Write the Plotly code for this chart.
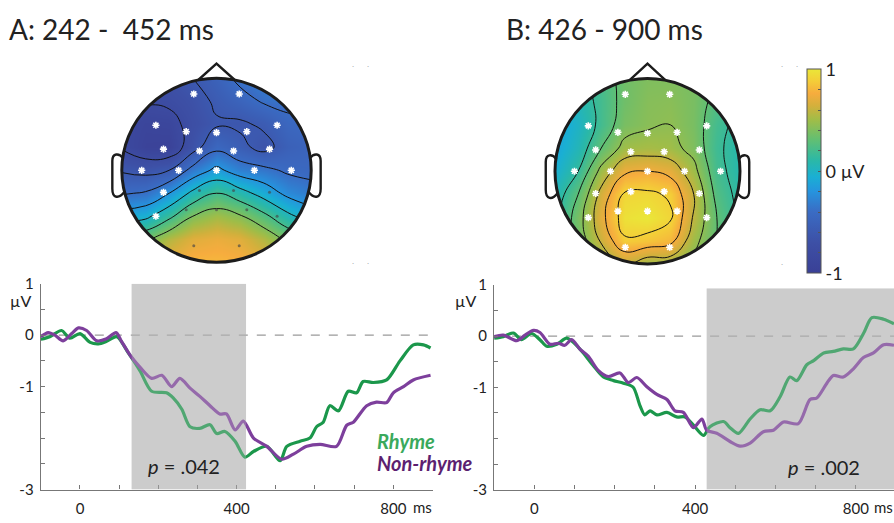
import numpy as np
import plotly.graph_objects as go

W, H = 894, 523
FONT = "Lato"

# ---------------- topography data (values in µV, read on a 9x9 grid, rows top->bottom) ----
grid_u = [-1.0, -0.75, -0.5, -0.25, 0.0, 0.25, 0.5, 0.75, 1.0]
grid_v = [1.0, 0.75, 0.5, 0.25, 0.0, -0.25, -0.5, -0.75, -1.0]

topo_a = [
    [-0.70, -0.70, -0.68, -0.60, -0.50, -0.35, -0.30, -0.30, -0.30],
    [-0.75, -0.78, -0.76, -0.68, -0.57, -0.48, -0.38, -0.35, -0.35],
    [-0.85, -0.90, -0.88, -0.72, -0.62, -0.63, -0.57, -0.45, -0.42],
    [-0.82, -0.94, -0.95, -0.68, -0.45, -0.55, -0.66, -0.52, -0.48],
    [-0.62, -0.66, -0.60, -0.33, -0.15, -0.30, -0.35, -0.43, -0.45],
    [-0.42, -0.38, -0.20, 0.05, 0.20, 0.08, -0.08, -0.25, -0.33],
    [-0.10, -0.05, 0.15, 0.40, 0.50, 0.42, 0.25, 0.05, -0.10],
    [0.30, 0.35, 0.55, 0.68, 0.72, 0.68, 0.55, 0.35, 0.25],
    [0.55, 0.60, 0.72, 0.80, 0.80, 0.78, 0.70, 0.55, 0.50],
]
topo_b = [
    [0.00, 0.10, 0.22, 0.35, 0.40, 0.40, 0.38, 0.30, 0.20],
    [-0.10, 0.05, 0.20, 0.35, 0.42, 0.43, 0.38, 0.25, 0.12],
    [-0.15, 0.00, 0.20, 0.38, 0.43, 0.45, 0.38, 0.20, 0.10],
    [-0.12, 0.05, 0.30, 0.50, 0.52, 0.50, 0.40, 0.18, 0.08],
    [-0.05, 0.15, 0.50, 0.72, 0.75, 0.70, 0.50, 0.20, 0.08],
    [0.05, 0.30, 0.65, 0.92, 0.93, 0.88, 0.60, 0.25, 0.10],
    [0.10, 0.38, 0.70, 0.97, 1.00, 0.92, 0.58, 0.30, 0.12],
    [0.15, 0.35, 0.62, 0.88, 0.85, 0.80, 0.50, 0.30, 0.15],
    [0.20, 0.30, 0.45, 0.60, 0.50, 0.50, 0.40, 0.30, 0.20],
]
contour_levels_a = dict(start=-0.8, end=0.4, size=0.2)
contour_levels_b = dict(start=0.15, end=0.9, size=0.15)

elec_names = ['Fp1', 'Fp2', 'F7', 'F3', 'Fz', 'F4', 'F8', 'FC5', 'FC1', 'FC2', 'FC6',
              'T7', 'C3', 'Cz', 'C4', 'T8', 'CP5', 'CP1', 'CP2', 'CP6',
              'P7', 'P3', 'Pz', 'P4', 'P8', 'O1', 'O2']
elec_x = [-0.24, 0.24, -0.64, -0.32, 0.0, 0.32, 0.64, -0.56, -0.18, 0.18, 0.56,
          -0.79, -0.40, 0.0, 0.40, 0.79, -0.56, -0.18, 0.18, 0.56,
          -0.64, -0.32, 0.0, 0.32, 0.64, -0.24, 0.24]
elec_y = [0.83, 0.83, 0.49, 0.42, 0.41, 0.42, 0.49, 0.23, 0.21, 0.21, 0.23,
          0.0, 0.0, 0.0, 0.0, 0.0, -0.24, -0.22, -0.22, -0.24,
          -0.50, -0.43, -0.43, -0.43, -0.50, -0.82, -0.82]
sig_a = [1, 1, 1, 1, 1, 1, 1, 1, 1, 1, 1, 1, 1, 1, 1, 1, 1, 0, 0, 0, 1, 0, 0, 0, 0, 0, 0]
sig_b = [1] * 27

# ---------------- ERP waveform data (ms, µV) ----------------
a_rhyme_t = [-100, -77, -47, -26, 0, 26, 47, 68, 94, 123, 153, 183, 221, 238, 260, 281, 306, 332,
             349, 370, 396, 421, 443, 477, 511, 528, 562, 587, 604, 621, 638, 660, 685, 706, 723,
             749, 783, 817, 851, 877, 895]
a_rhyme_v = [-0.08, -0.03, 0.09, -0.06, 0.03, -0.14, -0.17, -0.12, -0.03, -0.34, -0.69, -1.09,
             -1.12, -1.22, -1.44, -1.78, -1.81, -1.74, -1.91, -1.87, -2.06, -2.37, -2.26, -2.16,
             -2.44, -2.16, -2.06, -2.0, -1.78, -1.69, -1.37, -1.47, -1.09, -1.12, -0.9, -0.92,
             -0.87, -0.5, -0.19, -0.19, -0.25]
a_nonrhyme_t = [-100, -81, -64, -43, -21, -4, 17, 43, 68, 92, 106, 128, 153, 183, 209, 234, 255,
                281, 306, 332, 357, 374, 396, 417, 443, 477, 515, 545, 579, 613, 655, 681, 698,
                732, 757, 783, 800, 826, 851, 895]
a_nonrhyme_v = [-0.03, 0.05, 0.0, -0.11, 0.03, 0.14, 0.09, -0.11, -0.07, 0.05, -0.12, -0.39,
                -0.62, -0.84, -0.78, -1.0, -0.84, -1.03, -1.19, -1.37, -1.53, -1.53, -1.84, -1.67,
                -2.0, -2.16, -2.41, -2.31, -2.16, -2.12, -2.16, -1.75, -1.69, -1.37, -1.3, -1.31,
                -1.12, -1.0, -0.87, -0.78]
b_rhyme_t = [-100, -77, -52, -32, -7, 14, 31, 56, 80, 97, 122, 147, 172, 197, 222, 246, 263, 275,
             288, 305, 330, 354, 375, 396, 421, 437, 471, 487, 508, 537, 562, 587, 612, 636, 653,
             678, 695, 720, 744, 769, 794, 819, 840, 869, 895]
b_rhyme_v = [-0.04, -0.01, 0.06, -0.07, 0.05, -0.07, -0.2, -0.16, -0.04, -0.12, -0.33, -0.58,
             -0.8, -0.87, -0.92, -1.0, -1.36, -1.54, -1.46, -1.54, -1.49, -1.58, -1.58, -1.74,
             -1.94, -1.77, -1.67, -1.79, -1.9, -1.62, -1.44, -1.46, -1.18, -0.8, -0.87, -0.56,
             -0.48, -0.33, -0.3, -0.25, -0.25, 0.05, 0.36, 0.33, 0.24]
b_nonrhyme_t = [-100, -77, -44, -23, -2, 14, 39, 60, 76, 93, 114, 134, 159, 184, 213, 234, 255,
                280, 305, 330, 350, 371, 396, 417, 429, 454, 487, 512, 537, 570, 595, 620, 657,
                686, 703, 728, 744, 769, 794, 819, 844, 869, 895]
b_nonrhyme_v = [-0.01, 0.02, -0.09, 0.02, 0.11, 0.07, -0.16, -0.14, -0.18, -0.07, -0.26, -0.39,
                -0.67, -0.79, -0.72, -0.91, -0.81, -0.99, -1.14, -1.24, -1.46, -1.49, -1.79,
                -1.62, -1.84, -1.9, -2.06, -2.15, -2.09, -1.87, -1.84, -1.68, -1.71, -1.24, -1.21,
                -0.92, -0.77, -0.8, -0.64, -0.42, -0.33, -0.17, -0.18]
window_a = [132, 424]
window_b = [429, 900]
window_b_top = 0.93
p_a = ".042"
p_b = ".002"

x_tickvals = list(range(-100, 901, 100))
x_ticktext = ['', '0', '', '', '', '400', '', '', '', '800', '']
y_tickvals = [-3, -2.5, -2, -1.5, -1, -0.5, 0, 0.5, 1]
y_ticktext = ['-3', '', '', '', '-1', '', '0', '', '1']

GREEN = '#1b974b'
PURPLE = '#7d3f9c'

colorscale = [
    [0.00, 'rgb(58,64,150)'],
    [0.15, 'rgb(61,80,166)'],
    [0.30, 'rgb(58,108,196)'],
    [0.40, 'rgb(38,148,222)'],
    [0.47, 'rgb(26,175,212)'],
    [0.55, 'rgb(42,184,168)'],
    [0.65, 'rgb(96,191,116)'],
    [0.75, 'rgb(160,189,72)'],
    [0.82, 'rgb(212,176,60)'],
    [0.88, 'rgb(246,172,62)'],
    [0.94, 'rgb(244,205,56)'],
    [1.00, 'rgb(234,231,56)'],
]

fig = go.Figure()

def px_dom_x(a, b):
    return [a / W, b / W]

def px_dom_y(top, bottom):
    return [(H - bottom) / H, (H - top) / H]

R = 1.2
heads = [
    ('x', 'y', 216.5, 166.0, 94.7, 95.2, topo_a, contour_levels_a, sig_a, False),
    ('x2', 'y2', 647.5, 167.0, 92.5, 96.0, topo_b, contour_levels_b, sig_b, True),
]

yv = grid_v[::-1]
theta = np.linspace(0, 2 * np.pi, 181)
circ = " ".join(("M" if i == 0 else "L") + f"{np.cos(t):.4f},{np.sin(t):.4f}" for i, t in enumerate(theta)) + " Z"
mask_path = "M-1.5,-1.5 L1.5,-1.5 L1.5,1.5 L-1.5,1.5 Z " + circ

shapes = []
layout_axes = {}
for (xa, ya, cx, cy, rx, ry, topo, lev, sig, showscale) in heads:
    z = topo[::-1]
    cb = None
    if showscale:
        cb = dict(x=807.3 / W, xanchor='left', xpad=0, y=(H - 167) / H, yanchor='middle', ypad=0,
                  len=204, lenmode='pixels', thickness=14, thicknessmode='pixels',
                  outlinewidth=1, outlinecolor='#555',
                  ticks='inside', ticklen=3, tickcolor='#555',
                  tickvals=[-1, -0.8, -0.6, -0.4, -0.2, 0, 0.2, 0.4, 0.6, 0.8, 1],
                  ticktext=['-1', '', '', '', '', '0 µV', '', '', '', '', '1'],
                  tickfont=dict(family=FONT, size=18, color='#222'))
    fig.add_trace(go.Heatmap(x=grid_u, y=yv, z=z, zsmooth='best', colorscale=colorscale,
                             zmin=-1, zmax=1, showscale=showscale, colorbar=cb,
                             xaxis=xa, yaxis=ya, hoverinfo='skip'))
    fig.add_trace(go.Contour(x=grid_u, y=yv, z=z, contours=dict(coloring='none', **lev),
                             line=dict(color='#111', width=1, smoothing=1.3), showscale=False,
                             xaxis=xa, yaxis=ya, hoverinfo='skip'))
    ex_s = [x for x, s in zip(elec_x, sig) if s]
    ey_s = [y for y, s in zip(elec_y, sig) if s]
    ex_n = [x for x, s in zip(elec_x, sig) if not s]
    ey_n = [y for y, s in zip(elec_y, sig) if not s]
    fig.add_trace(go.Scatter(x=ex_n, y=ey_n, mode='markers', xaxis=xa, yaxis=ya,
                             marker=dict(size=3, color='rgba(70,70,70,0.65)'), hoverinfo='skip'))
    fig.add_trace(go.Scatter(x=ex_s, y=ey_s, mode='markers', xaxis=xa, yaxis=ya,
                             marker=dict(symbol='asterisk-open', size=6, color='white',
                                         line=dict(color='white', width=1.6)), hoverinfo='skip'))
    fig.add_trace(go.Scatter(x=ex_s, y=ey_s, mode='markers', xaxis=xa, yaxis=ya,
                             marker=dict(size=3.5, color='white', line=dict(width=0)),
                             hoverinfo='skip'))
    an = xa.replace('x', 'xaxis')
    ay = ya.replace('y', 'yaxis')
    layout_axes[an] = dict(domain=px_dom_x(cx - R * rx, cx + R * rx), range=[-R, R], visible=False,
                           anchor=ya)
    layout_axes[ay] = dict(domain=px_dom_y(cy - R * ry, cy + R * ry), range=[-R, R], visible=False,
                           anchor=xa)
    shapes.append(dict(type='path', xref=xa, yref=ya, path=mask_path, fillcolor='white',
                       fillrule='evenodd', line=dict(width=0), layer='above'))
    shapes.append(dict(type='circle', xref=xa, yref=ya, x0=-1, x1=1, y0=-1, y1=1,
                       line=dict(color='#1c1c1c', width=3), layer='above'))
    shapes.append(dict(type='path', xref=xa, yref=ya,
                       path="M-0.19,0.985 L0,1.16 L0.19,0.985",
                       line=dict(color='#1c1c1c', width=2.4), layer='above'))
    for s in (-1, 1):
        shapes.append(dict(type='path', xref=xa, yref=ya,
                           path=(f"M{s*0.985},0.13 C{s*1.03},0.19 {s*1.10},0.19 {s*1.10},0.10 "
                                 f"L{s*1.10},-0.20 C{s*1.10},-0.31 {s*1.03},-0.31 {s*0.975},-0.24"),
                           line=dict(color='#1c1c1c', width=2.4), layer='above'))

# ---------------- ERP panels ----------------
erps = [
    ('x3', 'y3', px_dom_x(40.8, 432.5), [-100, 900], px_dom_y(283.4, 496.7),
     a_rhyme_t, a_rhyme_v, a_nonrhyme_t, a_nonrhyme_v, window_a, 1.0),
    ('x4', 'y4', [494.1 / W, 1.0], [-100, 895], px_dom_y(284.7, 496.7),
     b_rhyme_t, b_rhyme_v, b_nonrhyme_t, b_nonrhyme_v, window_b, window_b_top),
]
for (xa, ya, xd, xr, yd, rt, rv, nt, nv, win, wtop) in erps:
    an = xa.replace('x', 'xaxis')
    ay = ya.replace('y', 'yaxis')
    layout_axes[an] = dict(domain=xd, range=xr, anchor=ya, showline=True, linecolor='#777',
                           linewidth=1.3, ticks='inside', ticklen=4, tickcolor='#777',
                           tickvals=x_tickvals, ticktext=x_ticktext, showgrid=False,
                           zeroline=False, ticklabelstandoff=5,
                           tickfont=dict(family=FONT, size=15, color='#222'))
    layout_axes[ay] = dict(domain=yd, range=[-3, 1], anchor=xa, showline=True, linecolor='#777',
                           linewidth=1.3, ticks='inside', ticklen=4, tickcolor='#777',
                           tickvals=y_tickvals, ticktext=y_ticktext, showgrid=False,
                           zeroline=False, ticklabelstandoff=3,
                           tickfont=dict(family=FONT, size=15, color='#222'))
    shapes.append(dict(type='rect', xref=xa, yref=ya, x0=win[0], x1=win[1], y0=-3, y1=wtop,
                       fillcolor='#cccccc', line=dict(width=0), layer='below'))
    shapes.append(dict(type='line', xref=xa, yref=ya, x0=xr[0], x1=900, y0=0, y1=0,
                       line=dict(color='#9a9a9a', width=1.3, dash='dash'), layer='below'))
    fig.add_trace(go.Scatter(x=rt, y=rv, mode='lines', xaxis=xa, yaxis=ya,
                             line=dict(color=GREEN, width=3.2, shape='spline', smoothing=0.8),
                             hoverinfo='skip'))
    fig.add_trace(go.Scatter(x=nt, y=nv, mode='lines', xaxis=xa, yaxis=ya,
                             line=dict(color=PURPLE, width=3.2, shape='spline', smoothing=0.8),
                             hoverinfo='skip'))
    shapes.append(dict(type='rect', xref=xa, yref=ya, x0=win[0], x1=win[1], y0=-3, y1=wtop,
                       fillcolor='#cccccc', opacity=0.3, line=dict(width=0), layer='above'))

annotations = [
    dict(text="A: 242 -  452 ms", x=7 / W, y=(H - 20) / H, xanchor='left', yanchor='middle',
         font=dict(family=FONT, size=28, color='#222')),
    dict(text="B: 426 - 900 ms", x=504 / W, y=(H - 20) / H, xanchor='left', yanchor='middle',
         font=dict(family=FONT, size=28, color='#222')),
    dict(text="µV", x=8 / W, y=(H - 301) / H, xanchor='left', yanchor='middle',
         font=dict(family=FONT, size=16, color='#222')),
    dict(text="µV", x=453 / W, y=(H - 301) / H, xanchor='left', yanchor='middle',
         font=dict(family=FONT, size=16, color='#222')),
    dict(text="ms", x=411 / W, y=(H - 515) / H, xanchor='left', yanchor='middle',
         font=dict(family=FONT, size=15, color='#222')),
    dict(text="ms", x=872 / W, y=(H - 515) / H, xanchor='left', yanchor='middle',
         font=dict(family=FONT, size=15, color='#222')),
    dict(text=f"<i>p</i> = {p_a}", x=146 / W, y=(H - 472) / H, xanchor='left', yanchor='middle',
         font=dict(family=FONT, size=20, color='#222')),
    dict(text=f"<i>p</i> = {p_b}", x=786 / W, y=(H - 473) / H, xanchor='left', yanchor='middle',
         font=dict(family=FONT, size=20, color='#222')),
    dict(text="<b><i>Rhyme</i></b>", x=375 / W, y=(H - 446) / H, xanchor='left', yanchor='middle',
         font=dict(family=FONT, size=20, color='#3aa95c')),
    dict(text="<b><i>Non-rhyme</i></b>", x=375 / W, y=(H - 469) / H, xanchor='left',
         yanchor='middle', font=dict(family=FONT, size=20, color='#5c1f70')),
]
for (x, y) in [(353, 57), (368, 57), (353, 262), (368, 262), (782, 57), (797, 57), (782, 263)]:
    annotations.append(dict(text="·", x=x / W, y=(H - y) / H, xanchor='center', yanchor='middle',
                            font=dict(size=8, color='#888')))
for a in annotations:
    a.update(xref='paper', yref='paper', showarrow=False)

fig.update_layout(width=W, height=H, margin=dict(l=0, r=0, t=0, b=0),
                  paper_bgcolor='white', plot_bgcolor='rgba(0,0,0,0)', showlegend=False,
                  shapes=shapes, annotations=annotations, **layout_axes)

fig.write_html("out.html")
